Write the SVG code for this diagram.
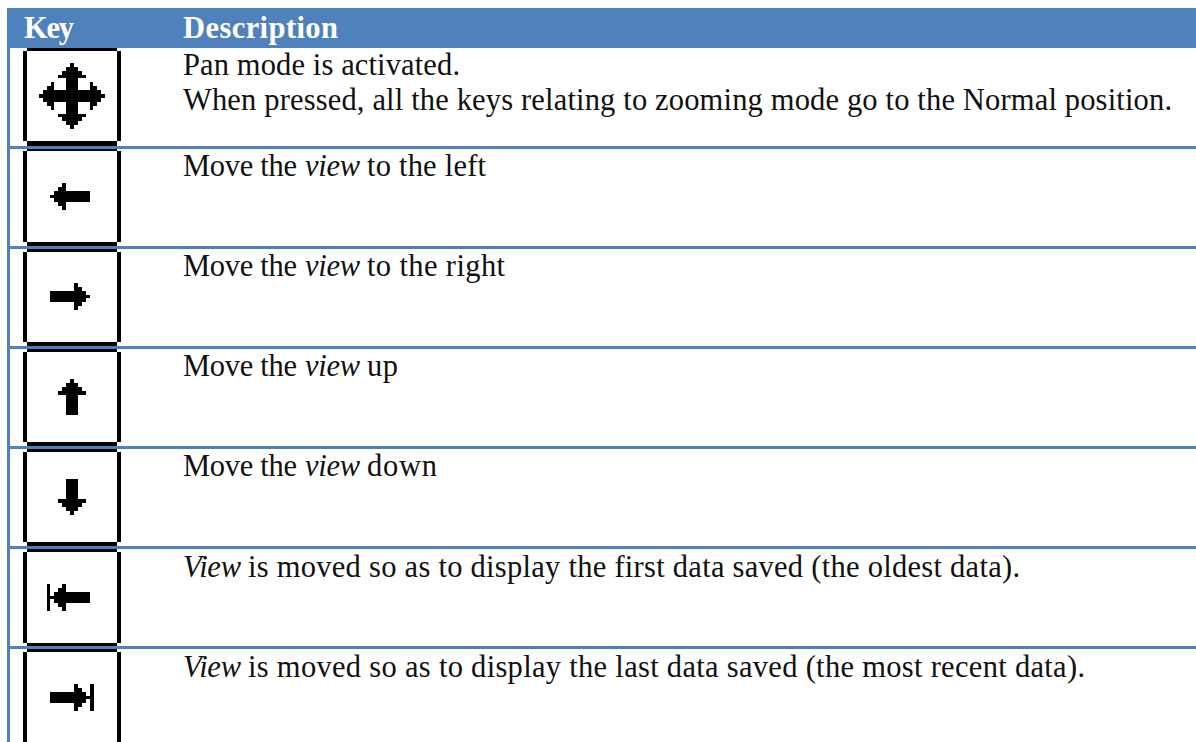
<svg xmlns="http://www.w3.org/2000/svg" width="1196" height="742" viewBox="0 0 1196 742">
<style>
.bg{fill:#fff}
.blue{fill:#4f81bd}
.ic{fill:#000;shape-rendering:crispEdges}
text{font-family:"Liberation Serif","DejaVu Serif",serif;font-size:30.500px;fill:#111}
text.h{font-weight:bold;fill:#fff}
.i{font-style:italic}
</style>
<rect class="bg" width="1196" height="742"/>
<g id="table-frame">
<rect class="blue" x="7" y="8" width="1189" height="40"/>
<rect class="blue" x="7" y="48" width="3" height="694"/>
</g>
<g id="key-frames" class="ic">
<path d="M27 48h90v3H27zM23 51h4v90h-4zM117 51h4v90h-4zM27 141h90v5H27z"/>
<path d="M27 149h90v2H27zM23 151h4v91h-4zM117 151h4v91h-4zM27 242h90v4H27z"/>
<path d="M27 249h90v3H27zM23 252h4v90h-4zM117 252h4v90h-4zM27 342h90v4H27z"/>
<path d="M27 349h90v3H27zM23 352h4v90h-4zM117 352h4v90h-4zM27 442h90v4H27z"/>
<path d="M27 449h90v3H27zM23 452h4v90h-4zM117 452h4v90h-4zM27 542h90v4H27z"/>
<path d="M27 549h90v3H27zM23 552h4v91h-4zM117 552h4v91h-4zM27 643h90v3H27z"/>
<path d="M27 649h90v3H27zM23 652h4v90h-4zM117 652h4v90h-4z"/>
</g>
<g id="row-lines" class="blue">
<rect x="7" y="146" width="1189" height="3"/>
<rect x="7" y="246" width="1189" height="3"/>
<rect x="7" y="346" width="1189" height="3"/>
<rect x="7" y="446" width="1189" height="3"/>
<rect x="7" y="546" width="1189" height="3"/>
<rect x="7" y="646" width="1189" height="3"/>
</g>
<g id="header">
<text class="h" x="24" y="38" textLength="50">Key</text>
<text class="h" x="183" y="38" textLength="155">Description</text>
</g>
<g id="row-pan">
<path class="ic" d="M70 63H74V67H78V71H82V75H86V78H78V90H90V82H93V86H97V90H101V94H105V98H101V102H97V106H93V110H90V102H78V114H86V117H82V121H78V125H74V129H70V125H66V121H62V117H58V114H66V102H54V110H51V106H47V102H43V98H39V94H43V90H47V86H51V82H54V90H66V78H58V75H62V71H66V67H70Z"/>
<text x="183" y="75" textLength="277">Pan mode is activated.</text>
<text x="183" y="110" textLength="989">When pressed, all the keys relating to zooming mode go to the Normal position.</text>
</g>
<g id="row-left">
<path class="ic" d="M50 195H54V191H58V187H62V183H66V191H90V202H66V210H62V206H58V202H54V198H50Z"/>
<text y="176"><tspan x="183" textLength="114">Move the</tspan><tspan class="i" x="305" textLength="55">view</tspan><tspan x="367" textLength="119">to the left</tspan></text>
</g>
<g id="row-right">
<path class="ic" d="M90 295H86V291H82V287H78V283H74V291H50V302H74V310H78V306H82V302H86V298H90Z"/>
<text y="276"><tspan x="183" textLength="114">Move the</tspan><tspan class="i" x="305" textLength="55">view</tspan><tspan x="367" textLength="138">to the right</tspan></text>
</g>
<g id="row-up">
<path class="ic" d="M70 379H74V383H78V387H82V391H86V395H78V415H66V395H58V391H62V387H66V383H70Z"/>
<text y="376"><tspan x="183" textLength="114">Move the</tspan><tspan class="i" x="305" textLength="55">view</tspan><tspan x="367" textLength="31">up</tspan></text>
</g>
<g id="row-down">
<path class="ic" d="M66 479H78V499H86V503H82V507H78V511H74V515H70V511H66V507H62V503H58V499H66Z"/>
<text y="476"><tspan x="183" textLength="114">Move the</tspan><tspan class="i" x="305" textLength="55">view</tspan><tspan x="367" textLength="70">down</tspan></text>
</g>
<g id="row-first">
<path class="ic" d="M47 584H50V596H54V592H58V588H62V584H66V592H90V603H66V611H62V607H58V603H54V599H50V611H47Z"/>
<text y="577"><tspan class="i" x="183" textLength="58">View</tspan><tspan x="248" textLength="772">is moved so as to display the first data saved (the oldest data).</tspan></text>
</g>
<g id="row-last">
<path class="ic" d="M94 684H90V696H86V692H82V688H78V684H74V692H50V703H74V711H78V707H82V703H86V699H90V711H94Z"/>
<text y="677"><tspan class="i" x="183" textLength="58">View</tspan><tspan x="248" textLength="837">is moved so as to display the last data saved (the most recent data).</tspan></text>
</g>
</svg>
